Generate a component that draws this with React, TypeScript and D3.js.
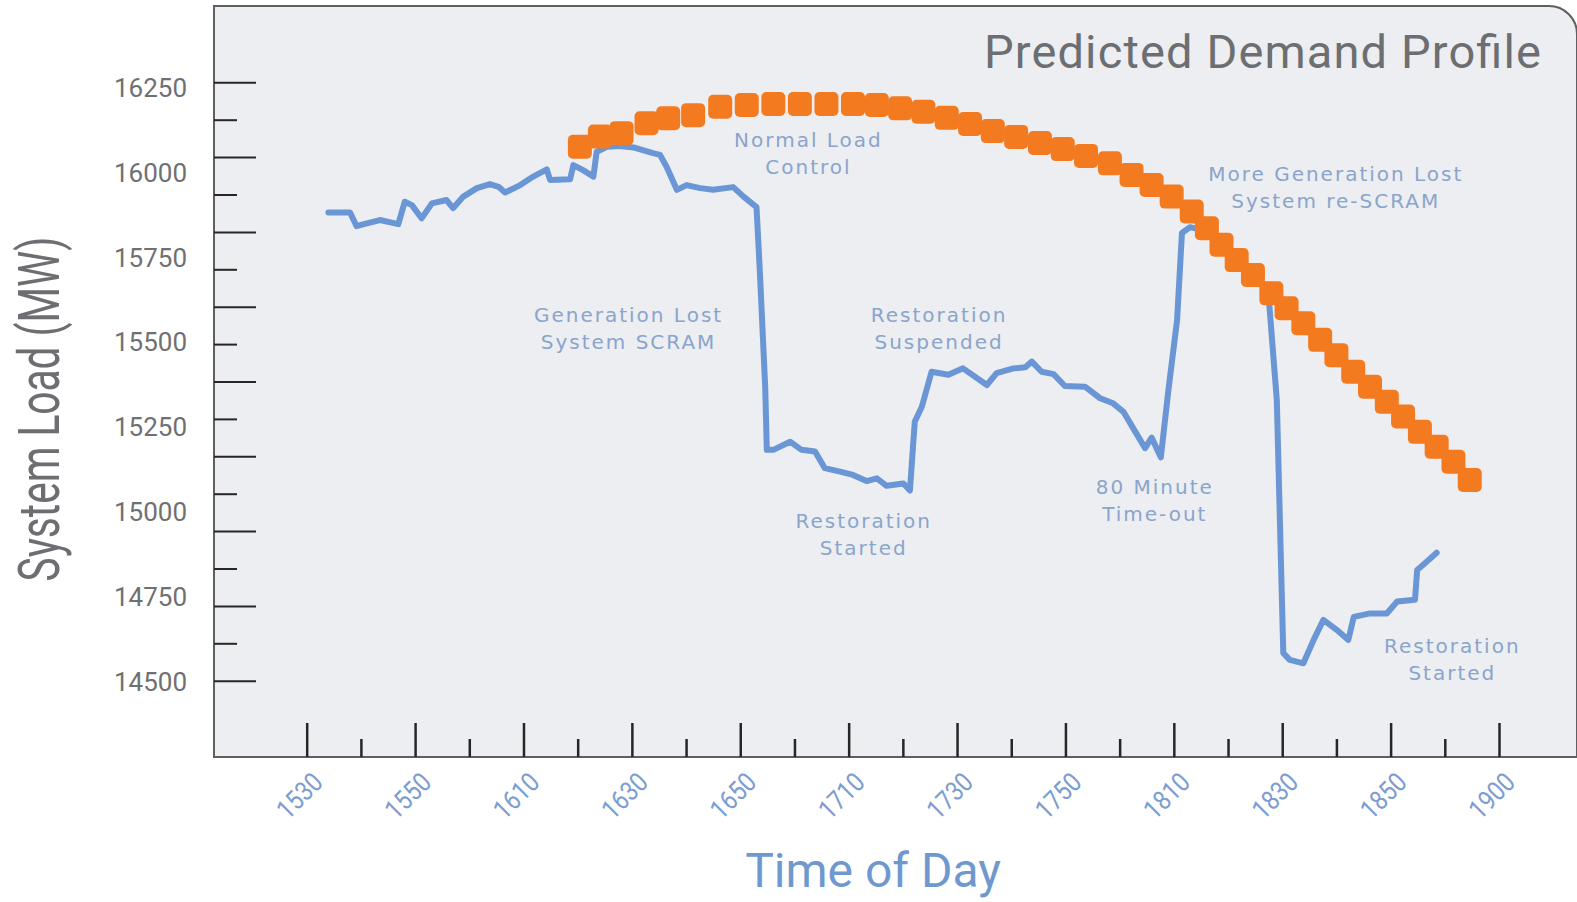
import React from 'react';
import * as d3 from 'd3';

// tick labels (the last one really reads 1900 in the source)
const timeLabels = ['1530', '1550', '1610', '1630', '1650', '1710', '1730',
  '1750', '1810', '1830', '1850', '1900'];
const loadLabels = [16250, 16000, 15750, 15500, 15250, 15000, 14750, 14500];

// actual system load, minutes after 15:30
const actualMinutes = [4, 8, 9.2, 11.1, 13.5, 16.9, 18.1, 19.4, 21.2, 23.1,
  25.8, 27, 28.9, 31.4, 33.8, 35.4, 36.6, 39.4, 41.8, 44.3,
  44.9, 48.6, 49.2, 51, 52.9, 53.5, 55.4, 57.8, 60.3, 63.9,
  65.2, 66.4, 68.3, 70.1, 72.6, 75, 78.7, 80.6, 83, 83.6,
  84.6, 84.9, 86.1, 89.2, 91.3, 93.8, 95.6, 98.4, 100.8, 103.3,
  105.2, 107, 110.1, 111.3, 112.2, 113.5, 115.3, 118.4, 121.1, 125.5,
  127.3, 130.4, 132.6, 133.8, 135.6, 137.8, 139.9, 143.6, 146.4, 148.8,
  150.7, 152.9, 154.7, 155.9, 157.6, 159, 160.6, 161.5, 163, 166.7,
  172.2, 177.4, 179, 180.2, 181.4, 183.9, 185.8, 187.6, 190.1, 192.2,
  193.2, 196.2, 199.3, 201.2, 204.5, 204.9, 206.7, 208.5];
const actualLoad = [15883, 15883, 15843, 15851, 15861, 15849, 15915, 15905, 15866, 15910,
  15920, 15896, 15930, 15955, 15967, 15959, 15942, 15964, 15989, 16010,
  15979, 15981, 16023, 16008, 15989, 16062, 16077, 16079, 16075, 16058,
  16053, 16018, 15950, 15964, 15955, 15950, 15958, 15930, 15899, 15714,
  15370, 15184, 15184, 15208, 15184, 15179, 15130, 15120, 15110, 15092,
  15100, 15078, 15085, 15064, 15267, 15311, 15414, 15405, 15424, 15375,
  15410, 15424, 15427, 15444, 15414, 15407, 15372, 15370, 15336, 15321,
  15296, 15237, 15189, 15220, 15162, 15360, 15566, 15823, 15840, 15826,
  15734, 15655, 15331, 14585, 14565, 14555, 14624, 14683, 14653, 14624,
  14692, 14702, 14702, 14737, 14742, 14830, 14855, 14881];

// predicted demand profile
const predictedMinutes = [50.4, 54.1, 58.1, 62.7, 66.7, 71.3, 76.3, 81.2, 86.1, 91,
  95.9, 100.8, 105.2, 109.5, 113.8, 118.1, 122.4, 126.6, 130.9, 135.3,
  139.5, 143.8, 148.2, 152.2, 155.9, 159.6, 163.3, 166.1, 168.8, 171.6,
  174.6, 178, 180.8, 183.9, 187, 190, 193.1, 196.2, 199.3, 202.3,
  205.4, 208.5, 211.6, 214.6];
const predictedLoad = [16077, 16107, 16117, 16146, 16161, 16170, 16195, 16200, 16203, 16203,
  16203, 16203, 16200, 16190, 16180, 16162, 16144, 16123, 16106, 16088,
  16070, 16050, 16028, 15994, 15964, 15930, 15886, 15837, 15788, 15743,
  15699, 15645, 15601, 15557, 15508, 15463, 15414, 15370, 15326, 15282,
  15237, 15193, 15149, 15095];

// annotations, anchored at (minute, load) of the first line's centre
const noteLines = [['Normal Load', 'Control'], ['Generation Lost', 'System SCRAM'],
  ['Restoration', 'Suspended'], ['Restoration', 'Started'], ['80 Minute', 'Time-out'],
  ['More Generation Lost', 'System re-SCRAM'], ['Restoration', 'Started']];
const noteMinutes = [92.4, 59.2, 116.5, 102.6, 156.3, 189.7, 211.2];
const noteLoad = [16097, 15582, 15582, 14974, 15075, 15997, 14607];

export default class App extends React.Component {
  svgRef = React.createRef<SVGSVGElement>();

  componentDidMount(): void {
    document.body.style.margin = '0';
    this.drawChart();
  }

  render() {
    return <svg ref={this.svgRef} width={1577} height={902}
      style={{display: 'block', background: '#fff'}} />;
  }

  drawChart() {
    const svg = d3.select(this.svgRef.current);
    svg.selectAll('*').remove();

    const left = 214;
    const top = 6;
    const bottom = 757;
    const right = 1577;
    const corner = 28;

    const x = d3.scaleLinear().domain([0, 220]).range([306.7, 1499]);
    const y = d3.scaleLinear().domain([14500, 16250]).range([682, 88]);
    // tick marks on the y side do not line up with the labels in the source
    const yTick = d3.scaleLinear().domain([0, 16]).range([680.7, 82.3]);

    // plot frame with rounded top-right corner
    svg.append('path')
        .attr('d', `M${left},${bottom} V${top} H${right - corner} ` +
          `A${corner},${corner} 0 0 1 ${right},${top + corner} V${bottom} Z`)
        .attr('fill', '#eceef1')
        .attr('stroke', '#5e5f62')
        .attr('stroke-width', 2);

    const styleTicks = (g: any, width: number) => {
      g.select('.domain').remove();
      g.selectAll('line').attr('stroke', '#262626').attr('stroke-width', width);
      g.selectAll('text').remove();
    };

    // y tick marks
    svg.append('g')
        .attr('transform', `translate(${left},0)`)
        .call(d3.axisRight(yTick).tickValues(d3.range(0, 17, 2)).tickSize(42))
        .call((g: any) => styleTicks(g, 2));
    svg.append('g')
        .attr('transform', `translate(${left},0)`)
        .call(d3.axisRight(yTick).tickValues(d3.range(1, 16, 2)).tickSize(23))
        .call((g: any) => styleTicks(g, 2));

    // y labels
    const yLabels = svg.append('g')
        .attr('transform', 'translate(187,0)')
        .call(d3.axisLeft(y).tickValues(loadLabels).tickSize(0).tickPadding(0)
            .tickFormat((d: any) => String(d)));
    yLabels.select('.domain').remove();
    yLabels.selectAll('text')
        .attr('font-family', 'Roboto, sans-serif')
        .attr('font-size', 26)
        .attr('fill', '#6f7073');

    // x tick marks
    const majors = d3.range(0, 221, 20);
    svg.append('g')
        .attr('transform', `translate(0,${bottom})`)
        .call(d3.axisTop(x).tickValues(majors).tickSize(34))
        .call((g: any) => styleTicks(g, 2.5));
    svg.append('g')
        .attr('transform', `translate(0,${bottom})`)
        .call(d3.axisTop(x).tickValues(d3.range(10, 211, 20)).tickSize(18))
        .call((g: any) => styleTicks(g, 2.5));

    // rotated time labels
    svg.append('g')
        .selectAll('text')
        .data(majors)
        .join('text')
        .attr('transform', (d: number) => `translate(${x(d) - 7},796) rotate(-45)`)
        .attr('text-anchor', 'middle')
        .attr('dominant-baseline', 'central')
        .attr('font-family', 'Roboto, sans-serif')
        .attr('font-size', 27)
        .attr('textLength', 52)
        .attr('lengthAdjust', 'spacingAndGlyphs')
        .attr('fill', '#7b9dd0')
        .text((d: number, i: number) => timeLabels[i]);

    // actual load line
    const line = d3.line<number>()
        .x((d, i) => x(actualMinutes[i]))
        .y((d) => y(d));
    svg.append('path')
        .datum(actualLoad)
        .attr('d', line)
        .attr('fill', 'none')
        .attr('stroke', '#6a96d6')
        .attr('stroke-width', 6)
        .attr('stroke-linejoin', 'round')
        .attr('stroke-linecap', 'round');

    // predicted profile markers
    const size = 24;
    svg.append('g')
        .selectAll('rect')
        .data(predictedLoad)
        .join('rect')
        .attr('x', (d: number, i: number) => x(predictedMinutes[i]) - size / 2)
        .attr('y', (d: number) => y(d) - size / 2)
        .attr('width', size)
        .attr('height', size)
        .attr('rx', 5)
        .attr('fill', '#f47a20');

    // annotations
    const notes = svg.append('g')
        .attr('font-family', '"DejaVu Sans", sans-serif')
        .attr('font-size', 20)
        .attr('letter-spacing', 2)
        .attr('fill', '#8aa4cc')
        .attr('text-anchor', 'middle');
    noteLines.forEach((lines, i) => {
      lines.forEach((txt, j) => {
        notes.append('text')
            .attr('x', x(noteMinutes[i]) + 1)
            .attr('y', y(noteLoad[i]) + j * 27)
            .attr('dominant-baseline', 'central')
            .text(txt);
      });
    });

    // titles
    svg.append('text')
        .attr('x', 984)
        .attr('y', 68)
        .attr('font-family', 'Roboto, sans-serif')
        .attr('font-size', 47)
        .attr('textLength', 557)
        .attr('fill', '#6d6e71')
        .text('Predicted Demand Profile');

    svg.append('text')
        .attr('transform', 'translate(59,409) rotate(-90)')
        .attr('text-anchor', 'middle')
        .attr('font-family', 'Roboto, sans-serif')
        .attr('font-size', 58)
        .attr('textLength', 345)
        .attr('lengthAdjust', 'spacingAndGlyphs')
        .attr('fill', '#6d6e71')
        .text('System Load (MW)');

    svg.append('text')
        .attr('x', 873)
        .attr('y', 887)
        .attr('text-anchor', 'middle')
        .attr('font-family', 'Roboto, sans-serif')
        .attr('font-size', 48)
        .attr('fill', '#6f98cf')
        .text('Time of Day');
  }
}
